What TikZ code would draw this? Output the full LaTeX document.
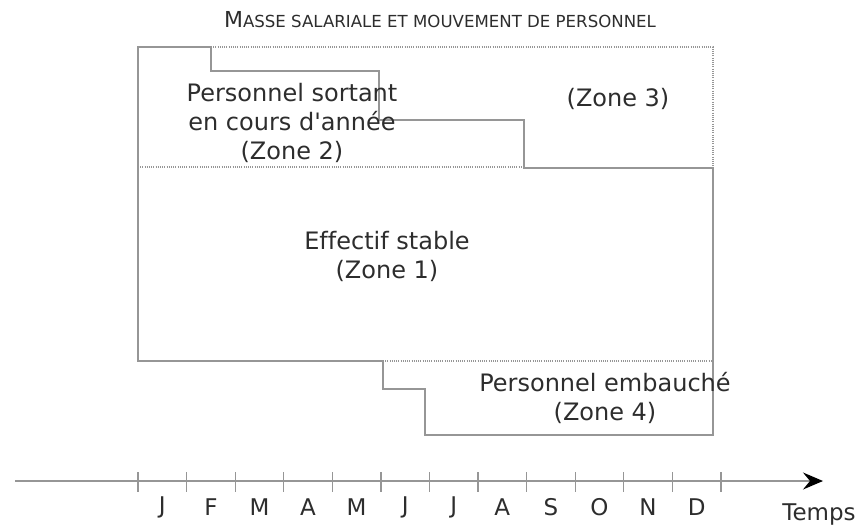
\documentclass[tikz,border=0pt]{standalone}
\usepackage{fontspec}
\setmainfont{DejaVu Sans}[Ligatures={NoCommon}]
\usetikzlibrary{arrows.meta}
\definecolor{trait}{RGB}{150,150,150}
\definecolor{texte}{RGB}{45,45,45}
\begin{document}
\begin{tikzpicture}[x=0.5pt,y=-0.5pt,
  zone/.style={text=texte,font=\fontsize{12}{14.5}\selectfont,align=center,inner sep=0pt},
  mois/.style={text=texte,font=\fontsize{11.5}{13}\selectfont,inner sep=0pt},
  pointille/.style={trait,line width=0.6pt,dash pattern=on 0.5pt off 0.6pt}]
\useasboundingbox (0,0) rectangle (862,530);
% titre
\node[text=texte,inner sep=0pt] (titre) at (440,20)
  {{\fontsize{11}{12}\selectfont M}{\fontsize{8.3}{9}\selectfont ASSE SALARIALE ET MOUVEMENT DE PERSONNEL}};
% contour des zones
\draw[trait,line width=0.6pt] (138,47) -- (211,47) -- (211,71) -- (379,71) -- (379,120)
  -- (524,120) -- (524,168) -- (713,168) -- (713,435) -- (425,435) -- (425,389)
  -- (383,389) -- (383,361) -- (138,361) -- cycle;
\draw[pointille] (211,47) -- (713,47) -- (713,168);
\draw[pointille] (138,167) -- (524,167);
\draw[pointille] (383,361) -- (713,361);
% textes
\node[zone] (zone2) at (292,123) {Personnel sortant\\en cours d\textquotesingle année\\(Zone 2)};
\node[zone] (zone3) at (618,99) {(Zone 3)};
\node[zone] (zone1) at (387,256) {Effectif stable\\(Zone 1)};
\node[zone] (zone4) at (605,398) {Personnel embauché\\(Zone 4)};
% axe du temps
\coordinate (debut) at (15,481);
\coordinate (fin) at (823,481);
\draw[trait,line width=0.7pt,-{Stealth[black,length=10pt,width=8.5pt,inset=3.5pt]}] (debut) -- (fin);
\foreach \i in {0,...,12}
  \draw[trait,line width=0.6pt] ({138+48.58*\i},472) -- ++(0,20);
\foreach \m [count=\i] in {J,F,M,A,M,J,J,A,S,O,N,D}
  \node[mois] (m\i) at ({138+48.58*(\i-0.5)},507) {\m};
\node[mois] (temps) at (819,515) {Temps};
\end{tikzpicture}
\end{document}
